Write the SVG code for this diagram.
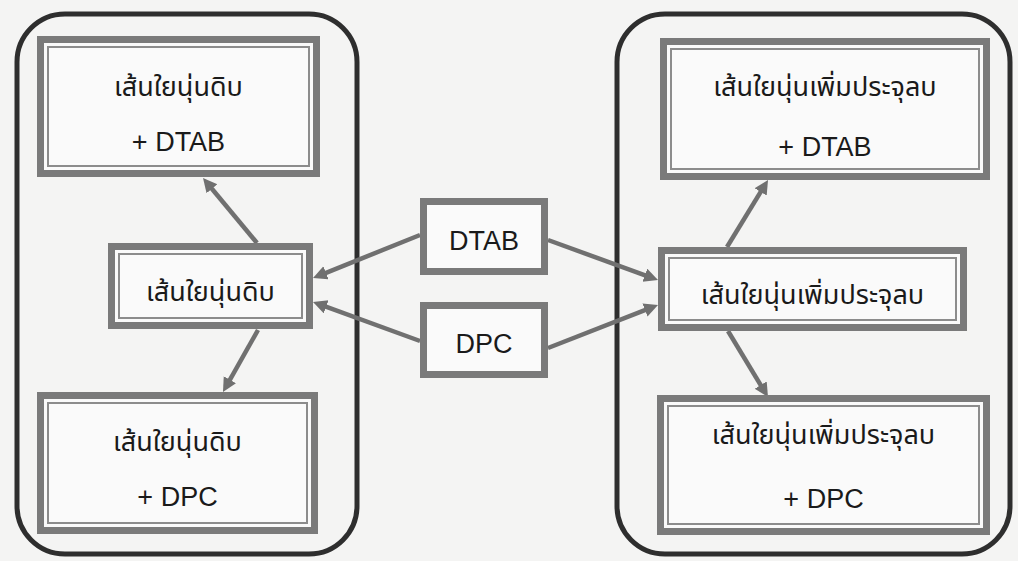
<svg xmlns="http://www.w3.org/2000/svg" width="1018" height="561" viewBox="0 0 1018 561">
<style>
.bg{fill:#f4f4f3}
.cont{fill:none;stroke:#2e2e2e;stroke-width:5}
.frame{fill:#fafafa;stroke:#7a7a7a;stroke-width:7}
.inner{fill:none;stroke:#8c8c8c;stroke-width:2}
.conn{stroke:#707070;stroke-width:4.5;fill:none;marker-end:url(#ah)}
.t{font-family:"Liberation Sans","Noto Sans","Noto Sans Thai",Arial,sans-serif;font-size:27px;fill:#1a1a1a;text-anchor:middle}
</style>
<defs>
<marker id="ah" markerUnits="userSpaceOnUse" markerWidth="16" markerHeight="16" refX="4" refY="7" orient="auto">
<path d="M0,0 L14,7 L0,14 z" fill="#707070"/>
</marker>
</defs>
<rect class="bg" x="0" y="0" width="1018" height="561"/>
<g id="containers">
<rect class="cont" x="17" y="14" width="340" height="540" rx="48" ry="48"/>
<rect class="cont" x="617" y="14" width="393" height="540" rx="48" ry="48"/>
</g>
<g id="connectors">
<line class="conn" x1="257" y1="243" x2="209.4" y2="185.7"/>
<line class="conn" x1="258" y1="330" x2="227.9" y2="383.3"/>
<line class="conn" x1="420" y1="235" x2="322.3" y2="274.3"/>
<line class="conn" x1="420" y1="341" x2="322.4" y2="305.4"/>
<line class="conn" x1="548" y1="240" x2="648.6" y2="276.6"/>
<line class="conn" x1="548" y1="348" x2="648.7" y2="308.6"/>
<line class="conn" x1="727" y1="247" x2="762.8" y2="188.5"/>
<line class="conn" x1="728" y1="331" x2="762.8" y2="388.5"/>
</g>
<g id="raw_dtab">
<rect class="frame" x="40.5" y="39.5" width="276" height="134"/>
<rect class="inner" x="48" y="47" width="261" height="119"/>
<text class="t" x="178.5" y="96">เส้นใยนุ่นดิบ</text>
<text class="t" x="178.5" y="151">+ DTAB</text>
</g>
<g id="raw">
<rect class="frame" x="111.5" y="246.5" width="198" height="79"/>
<rect class="inner" x="119" y="254" width="183" height="64"/>
<text class="t" x="210.5" y="301">เส้นใยนุ่นดิบ</text>
</g>
<g id="raw_dpc">
<rect class="frame" x="40.5" y="395.5" width="274" height="135"/>
<rect class="inner" x="48" y="403" width="259" height="120"/>
<text class="t" x="177.5" y="451">เส้นใยนุ่นดิบ</text>
<text class="t" x="177.5" y="506">+ DPC</text>
</g>
<g id="dtab">
<rect class="frame" x="423.5" y="201.5" width="121" height="70"/>
<text class="t" x="484" y="250">DTAB</text>
</g>
<g id="dpc">
<rect class="frame" x="423.5" y="305.5" width="121" height="69"/>
<text class="t" x="484" y="353">DPC</text>
</g>
<g id="mod_dtab">
<rect class="frame" x="663.5" y="41.5" width="323" height="135"/>
<rect class="inner" x="671" y="49" width="308" height="120"/>
<text class="t" x="825" y="96">เส้นใยนุ่นเพิ่มประจุลบ</text>
<text class="t" x="825" y="156">+ DTAB</text>
</g>
<g id="mod">
<rect class="frame" x="661.5" y="250.5" width="302" height="77"/>
<rect class="inner" x="669" y="258" width="287" height="62"/>
<text class="t" x="812.5" y="304">เส้นใยนุ่นเพิ่มประจุลบ</text>
</g>
<g id="mod_dpc">
<rect class="frame" x="660.5" y="398.5" width="326" height="133"/>
<rect class="inner" x="668" y="406" width="311" height="118"/>
<text class="t" x="823.5" y="444">เส้นใยนุ่นเพิ่มประจุลบ</text>
<text class="t" x="823.5" y="508">+ DPC</text>
</g>
</svg>
